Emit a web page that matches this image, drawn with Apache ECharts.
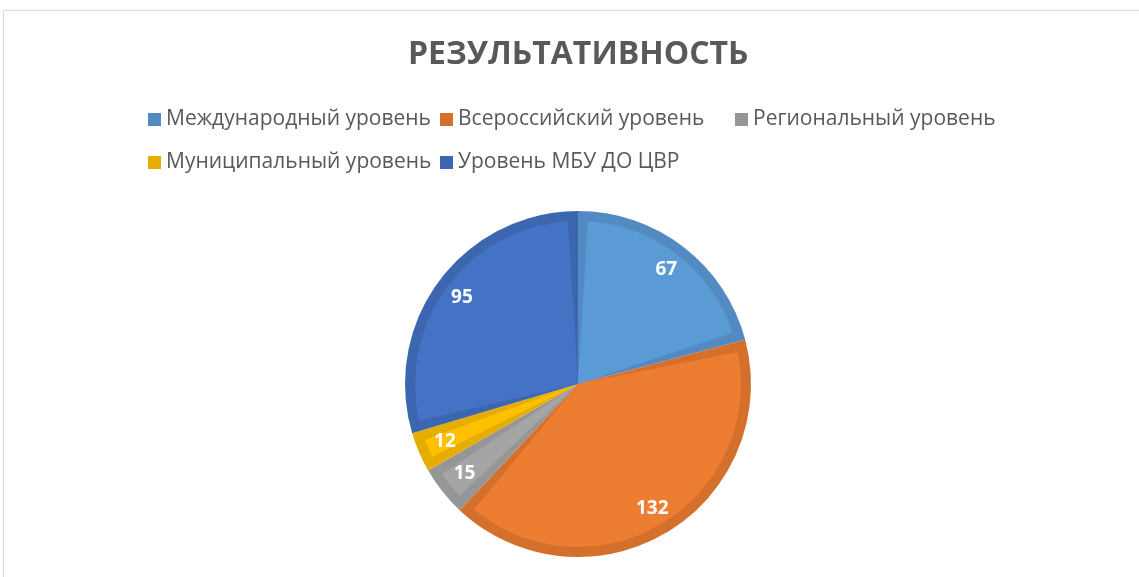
<!DOCTYPE html>
<html>
<head>
<meta charset="utf-8">
<script src="https://cdn.jsdelivr.net/npm/echarts@6.0.0/dist/echarts.min.js"></script>
<style>
  html, body { margin: 0; padding: 0; background: #fff; }
  #chart { width: 1139px; height: 577px; }
</style>
</head>
<body>
<div id="chart"></div>
<script>
const categories = [
  'Международный уровень',
  'Всероссийский уровень',
  'Региональный уровень',
  'Муниципальный уровень',
  'Уровень МБУ ДО ЦВР'
]
const values = [67, 132, 15, 12, 95]
const fillColors = ['#5b9bd5', '#ed7d31', '#a5a5a5', '#ffc000', '#4472c4']
const edgeColors = ['#548ac2', '#d46f2c', '#969696', '#e6ad00', '#3d66b1']

const font = '"Open Sans", "Noto Sans", sans-serif'
const cx = 578
const cy = 384
const R = 173

const chart = echarts.init(document.getElementById('chart'))

// легенда разложена по колонкам, как в Excel
const legendBase = {
  orient: 'vertical',
  padding: 0,
  itemWidth: 13,
  itemHeight: 13,
  itemGap: 22,
  icon: 'rect',
  itemStyle: { borderWidth: 0 },
  textStyle: { fontFamily: font, fontSize: 21, color: '#595959' },
  selectedMode: false
}

const pieBase = {
  type: 'pie',
  center: [cx, cy],
  startAngle: 90,
  clockwise: true,
  silent: true,
  legendHoverLink: false,
  labelLine: { show: false }
}

chart.setOption({
  backgroundColor: '#fff',
  animation: false,
  color: fillColors,
  title: {
    text: 'РЕЗУЛЬТАТИВНОСТЬ',
    left: 403,
    top: 34,
    textStyle: { fontFamily: font, fontSize: 32, fontWeight: 'bold', color: '#595959' }
  },
  legend: [
    { ...legendBase, left: 148, top: 109, data: [categories[0], categories[3]] },
    { ...legendBase, left: 440, top: 109, data: [categories[1], categories[4]] },
    { ...legendBase, left: 735, top: 109, data: [categories[2]] }
  ],
  graphic: [{
    type: 'rect',
    shape: { x: 3.5, y: 10.5, width: 1300, height: 700 },
    style: { fill: 'none', stroke: '#d9d9d9', lineWidth: 1 },
    silent: true
  }],
  series: [
    {
      // тёмная окантовка секторов
      ...pieBase,
      radius: [0, R],
      label: { show: false },
      data: categories.map((name, i) => ({
        name, value: values[i], itemStyle: { color: edgeColors[i] }
      }))
    },
    {
      // светлая заливка внутри окантовки
      ...pieBase,
      radius: [0, R - 10],
      padAngle: 7,
      label: { show: false },
      data: categories.map((name, i) => ({
        name, value: values[i], itemStyle: { color: fillColors[i] }
      }))
    },
    {
      // прозрачный слой только для подписей ближе к краю
      ...pieBase,
      radius: [R * 0.64, R],
      itemStyle: { color: 'rgba(0,0,0,0)', borderWidth: 0 },
      label: {
        show: true,
        position: 'inside',
        formatter: '{c}',
        fontFamily: font,
        fontSize: 19,
        fontWeight: 'bold',
        color: '#fff'
      },
      data: categories.map((name, i) => ({ name, value: values[i] }))
    }
  ]
})
</script>
</body>
</html>
